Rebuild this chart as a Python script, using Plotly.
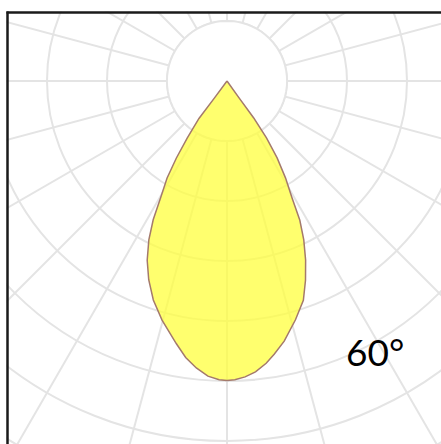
import plotly.graph_objects as go

# ---- data ----
# boundary of the light-distribution curve, angle in degrees from nadir (right side +, left side -)
theta_deg = [36, 35.5, 35.9, 34.7, 33.1, 31.1, 29.1, 27.6, 25.8, 23.7, 21.5, 19.2, 16.0, 12.4, 9.8, 7.9, 5.6,
             3.5, 1.5, 0, -1.5, -3.7, -6.1, -8.5, -10.9, -15.2, -18.6, -21.5, -24.0, -26.2, -28.0, -29.6,
             -31.7, -33.3, -34.9, -36.8, -36.5, -36]
intensity = [0, 33, 76, 116, 153, 189, 223, 262, 294, 326, 357, 387, 414, 444, 462, 475, 487,
             494, 498, 499, 498, 493, 481, 466, 446, 413, 385, 356, 327, 295, 262, 224,
             190, 154, 116, 78, 35, 0]
ring_values = [100, 200, 300, 400, 500, 600, 700]
spoke_angles = list(range(0, 360, 15))
label_text = "60°"

# ---- geometry / styling ----
FIG = 960
PX_PER_UNIT = 0.6
POLE_X, POLE_Y = 227, 81          # page position of the pole
OFF_X, OFF_Y = POLE_X - FIG // 2, POLE_Y - FIG // 2
GRID = "#E4E4E4"


def px(page_x):
    return (page_x - OFF_X) / FIG


def py(page_y):
    return 1 - (page_y - OFF_Y) / FIG


fig = go.Figure()
disk_theta = list(range(0, 361, 5))
fig.add_trace(go.Scatterpolar(r=[ring_values[0]] * len(disk_theta), theta=disk_theta, mode="lines",
                              fill="toself", fillcolor="white", line=dict(color=GRID, width=1.8),
                              hoverinfo="skip"))
fig.add_trace(go.Scatterpolar(r=intensity, theta=theta_deg, mode="lines", fill="toself",
                              fillcolor="rgba(255,255,60,0.74)",
                              line=dict(color="#A47A6C", width=1.5)))

fig.update_layout(
    width=FIG, height=FIG, margin=dict(l=0, r=0, t=0, b=0), showlegend=False,
    paper_bgcolor="white",
    polar=dict(
        domain=dict(x=[0, 1], y=[0, 1]), bgcolor="white",
        radialaxis=dict(range=[0, (FIG / 2) / PX_PER_UNIT], tickvals=ring_values, showticklabels=False,
                        ticks="", showline=False, gridcolor=GRID, gridwidth=1.8),
        angularaxis=dict(rotation=-90, direction="counterclockwise", tickvals=spoke_angles,
                         showticklabels=False, ticks="", showline=False, gridcolor=GRID, gridwidth=1.8),
    ),
    shapes=[
        dict(type="rect", xref="paper", yref="paper", x0=-0.1, x1=px(6.5), y0=-0.1, y1=1.1,
             fillcolor="white", line=dict(width=0), layer="above"),
        dict(type="rect", xref="paper", yref="paper", x0=-0.1, x1=1.1, y0=py(11.5), y1=1.1,
             fillcolor="white", line=dict(width=0), layer="above"),
        dict(type="line", xref="paper", yref="paper", x0=px(6.5), x1=1, y0=py(12.5), y1=py(12.5),
             line=dict(color="#1a1a1a", width=2.5), layer="above"),
        dict(type="line", xref="paper", yref="paper", x0=px(7.5), x1=px(7.5), y0=0, y1=py(11.5),
             line=dict(color="#1a1a1a", width=2.5), layer="above"),
    ],
    annotations=[dict(text=label_text, xref="paper", yref="paper", x=px(375), y=py(351),
                      xanchor="center", yanchor="middle", showarrow=False,
                      font=dict(family="Lato", size=37, color="black"))],
)

post = (
    "var gd=document.getElementById('{plot_id}');"
    f"gd.style.position='absolute';gd.style.left='{OFF_X}px';gd.style.top='{OFF_Y}px';"
    "document.documentElement.style.overflow='hidden';document.body.style.overflow='hidden';"
)
fig.write_html("out.html", config={"displayModeBar": False}, post_script=post)
